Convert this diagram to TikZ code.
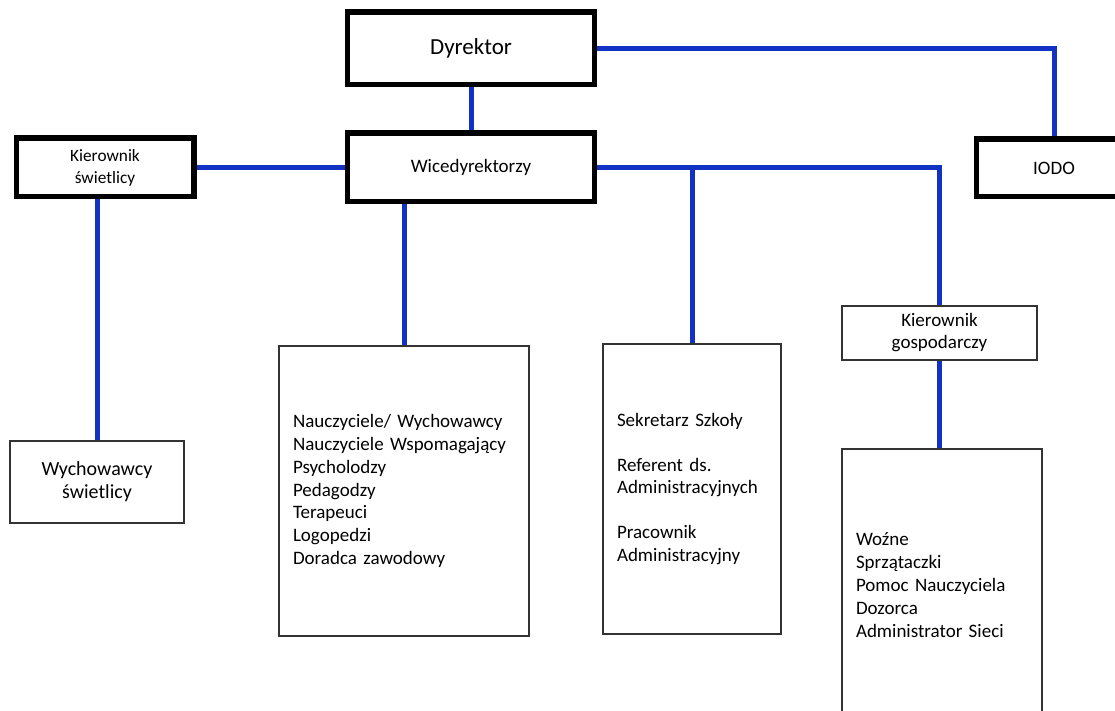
\documentclass[tikz,border=0pt]{standalone}
\usepackage{fontspec}
\setmainfont{Carlito}[WordSpace=0.75]
\definecolor{connblue}{HTML}{1232C4}
\definecolor{boxgray}{HTML}{333333}
\tikzset{
  thickbox/.style={draw=black, line width=3.5pt, fill=white, inner sep=0pt, align=center},
  thinbox/.style={draw=boxgray, line width=1.3pt, fill=white, inner sep=0pt, align=center},
  listbox/.style={draw=boxgray, line width=1.3pt, fill=white, inner ysep=0pt, align=left, font=\fontsize{19}{22.8}\selectfont},
  conn/.style={draw=connblue, line width=5pt},
}
\begin{document}
\begin{tikzpicture}[x=1pt,y=-1pt]
\useasboundingbox (0,0) rectangle (1115,711);
\clip (0,0) rectangle (1115,711);
\fill[white] (0,0) rectangle (1115,711);

\node[thickbox, minimum width=245pt, minimum height=71pt, font=\fontsize{23}{26}\selectfont] (dyr) at (471,48.5) {Dyrektor};
\node[thickbox, minimum width=245pt, minimum height=67pt, font=\fontsize{19}{22}\selectfont] (wice) at (471,167.5) {Wicedyrektorzy};
\node[thickbox, minimum width=176pt, minimum height=57pt, font=\fontsize{17.3}{22}\selectfont] (ks) at (105,167.5) {Kierownik\\świetlicy};
\node[thickbox, minimum width=154pt, minimum height=56pt, font=\fontsize{19}{22}\selectfont] (iodo) at (1054,168) {IODO};
\node[thinbox, minimum width=174pt, minimum height=82pt, font=\fontsize{20}{23}\selectfont] (ws) at (97,482) {Wychowawcy\\świetlicy};
\node[thinbox, minimum width=195pt, minimum height=54pt, font=\fontsize{19}{22}\selectfont] (kg) at (939.5,333) {Kierownik\\gospodarczy};

\node[listbox, minimum width=250pt, minimum height=289pt, text width=222pt, inner xsep=14pt] (nau) at (404,491)
{Nauczyciele/ Wychowawcy\\Nauczyciele Wspomagający\\Psycholodzy\\Pedagodzy\\Terapeuci\\Logopedzi\\Doradca zawodowy};
\node[listbox, minimum width=178pt, minimum height=289pt, text width=150pt, inner xsep=14pt] (sek) at (692,489)
{Sekretarz Szkoły\\[22pt]Referent ds.\\Administracyjnych\\[22pt]Pracownik\\Administracyjny};
\node[listbox, minimum width=200pt, minimum height=272pt, text width=172pt, inner xsep=14pt] (wz) at (942,585)
{Woźne\\Sprzątaczki\\Pomoc Nauczyciela\\Dozorca\\Administrator Sieci};

\draw[conn] (dyr.south) -- (wice.north);
\draw[conn] (dyr.east) -| (iodo.north);
\draw[conn] (ks.east) -- (wice.west);
\draw[conn] (ws.north |- ks.south) -- (ws.north);
\draw[conn] (nau.north |- wice.south) -- (nau.north);
\draw[conn] (wice.east) -| (kg.north);
\draw[conn] (sek.north |- wice.east) -- (sek.north);
\draw[conn] (kg.south) -- (kg.south |- wz.north);

% redraw box outlines over connector ends
\foreach \n in {dyr,wice,ks,iodo}{\draw[black, line width=3.5pt] (\n.north west) rectangle (\n.south east);}
\foreach \n in {ws,kg,nau,sek,wz}{\draw[boxgray, line width=1.3pt] (\n.north west) rectangle (\n.south east);}
\end{tikzpicture}
\end{document}
